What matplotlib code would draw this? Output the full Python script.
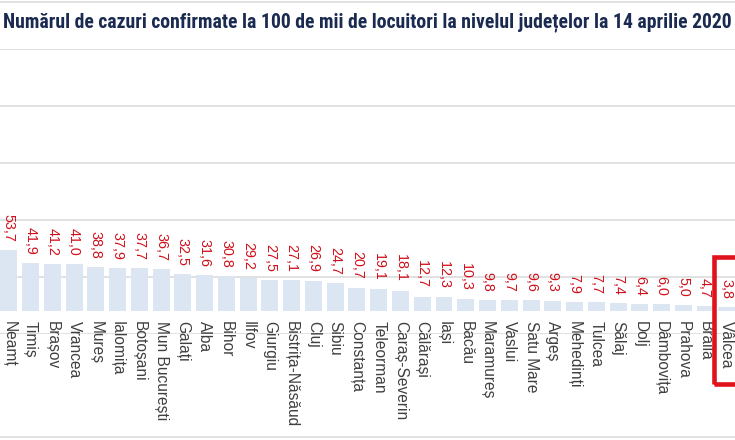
import matplotlib
matplotlib.use("Agg")
import matplotlib.pyplot as plt
from matplotlib.patches import Rectangle
from matplotlib.lines import Line2D

judete = ["Neamț", "Timiș", "Brașov", "Vrancea", "Mureș", "Ialomița", "Botoșani",
          "Mun București", "Galați", "Alba", "Bihor", "Ilfov", "Giurgiu",
          "Bistrița-Năsăud", "Cluj", "Sibiu", "Constanța", "Teleorman",
          "Caraș-Severin", "Călărași", "Iași", "Bacău", "Maramureș", "Vaslui",
          "Satu Mare", "Argeș", "Mehedinți", "Tulcea", "Sălaj", "Dolj",
          "Dâmbovița", "Prahova", "Brăila", "Vâlcea"]
cazuri = [53.7, 41.9, 41.2, 41.0, 38.8, 37.9, 37.7, 36.7, 32.5, 31.6, 30.8, 29.2,
          27.5, 27.1, 26.9, 24.7, 20.7, 19.1, 18.1, 12.7, 12.3, 10.3, 9.8, 9.7,
          9.6, 9.3, 7.9, 7.7, 7.4, 6.4, 6.0, 5.0, 4.7, 3.8]
grid_vals = [-20, 30, 80, 130, 180, 230]
title = "Numărul de cazuri confirmate la 100 de mii de locuitori la nivelul județelor la 14 aprilie 2020"

W, H, DPI = 735, 440, 100
fig = plt.figure(figsize=(W / DPI, H / DPI), dpi=DPI)
fig.patch.set_facecolor("white")

ax_top, ax_bot = 49, 334
ax = fig.add_axes([0, 1 - ax_bot / H, 1, (ax_bot - ax_top) / H])
ax.set_facecolor("none")

x = list(range(len(judete)))
ax.bar(x, cazuri, width=0.78, color="#dce6f2", zorder=2)

ax.set_ylim(-20, 230)
step = 21.76
x0 = -8.8 / step
ax.set_xlim(x0, x0 + W / step)
ax.set_yticks(grid_vals)
ax.grid(axis="y", color="#dedede", linewidth=1.3, zorder=0)
ax.set_xticks([])
ax.tick_params(axis="y", length=0, labelleft=False)
for s in ax.spines.values():
    s.set_visible(False)

for xi, v in zip(x, cazuri):
    ax.annotate(f"{v:.1f}".replace(".", ","), (xi, v), xytext=(0, 6),
                textcoords="offset points", rotation=270, ha="center", va="bottom",
                color="#d0101a", fontsize=10.3, family=["Liberation Sans", "DejaVu Sans"],
                zorder=3)

trans = ax.get_xaxis_transform()
label_y = (ax_bot - 321) / (ax_bot - ax_top)
for xi, name in zip(x, judete):
    ax.text(xi, label_y, name, transform=trans, rotation=270, ha="center", va="top",
            color="#3f3f3f", fontsize=11.2, family=["Liberation Sans", "DejaVu Sans"],
            zorder=3)

for yp in (2, 437):
    fig.add_artist(Line2D([0, 1], [1 - yp / H, 1 - yp / H], transform=fig.transFigure,
                          color="#dedede", linewidth=1.3))

fig.add_artist(Rectangle((714 / W, 1 - 384 / H), 40 / W, (384 - 257) / H,
                         transform=fig.transFigure, fill=False, edgecolor="#e0121b",
                         linewidth=3.3, zorder=5, clip_on=False))

t = fig.text(0.5, 1 - 22 / H, title, ha="center", va="center", fontsize=13,
             fontweight="bold", color="#1a2a50", fontstretch="condensed",
             family=["Liberation Sans Narrow", "Roboto Condensed", "Noto Sans",
                     "DejaVu Sans"])
fig.canvas.draw()
bb = t.get_window_extent()
t.set_fontsize(13 * 726 / bb.width)

fig.savefig("out.png", dpi=DPI, facecolor="white")
